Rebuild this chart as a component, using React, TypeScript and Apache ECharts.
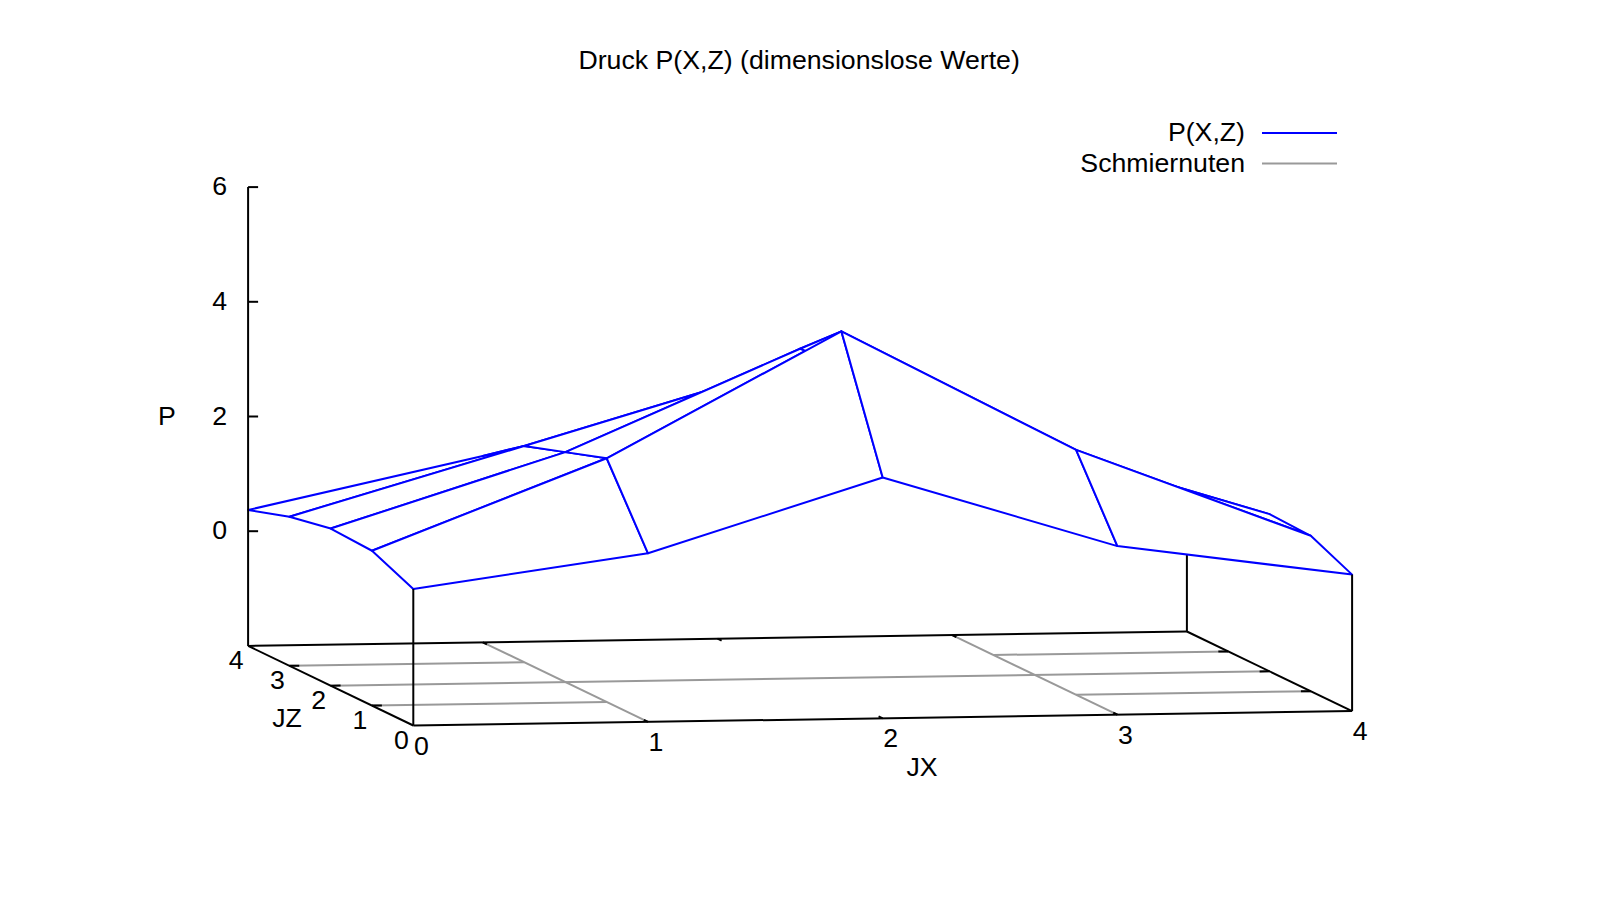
import React, { useEffect, useRef } from "react";
import * as echarts from "echarts";

const TITLE = "Druck P(X,Z) (dimensionslose Werte)";
const JX_TICKS = [0, 1, 2, 3, 4];
const JZ_TICKS = [0, 1, 2, 3, 4];
const P_TICKS = [6, 4, 2, 0];
const P_FLOOR = -2;

// P[jz][jx]
const P_Z0 = [0.38, 0.94, 2.2, 0.94, 0.38];
const P_Z1 = [0.7, 2.25, 4.4, 2.27, 0.71];
const P_Z2 = [0.74, 2.01, 3.75, 2.01, 0.74];
const P_Z3 = [0.6, 1.77, 2.95, 1.77, 0.6];
const P_Z4 = [0.37, 1.25, 2.14, 1.25, 0.37];
const P_GRID = [P_Z0, P_Z1, P_Z2, P_Z3, P_Z4];

// Schmiernuten on the floor: [jx1, jz1, jx2, jz2]
const GROOVES = [
  [1, 0, 1, 4],
  [3, 0, 3, 4],
  [0, 1, 1, 1],
  [3, 1, 4, 1],
  [0, 2, 4, 2],
  [0, 3, 1, 3],
  [3, 3, 4, 3],
];

const LEGEND_NAMES = ["P(X,Z)", "Schmiernuten"];

const BLUE = "#0000ff";
const GRAY = "#999999";
const BLACK = "#000000";
const FONT = "'Liberation Sans', Arial, sans-serif";
const LW = 2;
const FS = 26.7;

// oblique view of the (jx, jz, p) box onto the page
function project(jx: number, jz: number, p: number): [number, number] {
  return [
    413.3 + 234.7 * jx - 41.3 * jz,
    725.5 - 3.6 * jx - 19.9 * jz - 57.35 * (p - P_FLOOR),
  ];
}

type Seg = [number, number, number, number, string];
type Lbl = [number, number, string, string, number];

function segSeries(name: string, segs: Seg[], stroke: string) {
  return {
    type: "custom",
    name,
    silent: true,
    coordinateSystem: "cartesian2d",
    data: segs.map((s) => s.slice(0, 4)),
    renderItem: (_p: any, api: any) => {
      const a = api.coord([api.value(0), api.value(1)]);
      const b = api.coord([api.value(2), api.value(3)]);
      return {
        type: "line",
        shape: { x1: a[0], y1: a[1], x2: b[0], y2: b[1] },
        style: { stroke, lineWidth: LW, fill: null },
      };
    },
  };
}

function seg3(a: [number, number, number], b: [number, number, number]): Seg {
  const p = project(a[0], a[1], a[2]);
  const q = project(b[0], b[1], b[2]);
  return [p[0], p[1], q[0], q[1], ""];
}

function buildOption() {
  const F = P_FLOOR;
  const grooves: Seg[] = GROOVES.map((g) => seg3([g[0], g[1], F], [g[2], g[3], F]));

  const floor: Seg[] = [
    seg3([0, 0, F], [4, 0, F]),
    seg3([0, 4, F], [4, 4, F]),
    seg3([0, 0, F], [0, 4, F]),
    seg3([4, 0, F], [4, 4, F]),
    // vertical edge behind the surface
    seg3([4, 4, F], [4, 4, P_GRID[4][4]]),
  ];
  const TX = 0.042;
  const TZ = 0.1;
  JX_TICKS.slice(1, 4).forEach((x) => floor.push(seg3([x, 0, F], [x, TZ, F])));
  JX_TICKS.slice(1, 4).forEach((x) => floor.push(seg3([x, 4, F], [x, 4 - TZ, F])));
  JZ_TICKS.slice(1, 4).forEach((z) => {
    floor.push(seg3([0, z, F], [TX, z, F]));
    floor.push(seg3([4, z, F], [4 - TX, z, F]));
  });

  const cells: number[][] = [];
  for (let z = 3; z >= 0; z--) for (let x = 0; x < 4; x++) cells.push([x, z]);

  const front: Seg[] = [
    seg3([0, 0, F], [0, 0, P_GRID[0][0]]),
    seg3([4, 0, F], [4, 0, P_GRID[0][4]]),
    seg3([0, 4, F], [0, 4, 6]),
  ];
  [...P_TICKS].forEach((p) => {
    const a = project(0, 4, p);
    front.push([a[0], a[1], a[0] + 10, a[1], ""]);
  });

  const labels: Lbl[] = [];
  JX_TICKS.forEach((x) => {
    const a = project(x, 0, F);
    labels.push([a[0] + 8, a[1] + 20, String(x), "center", FS]);
  });
  JZ_TICKS.forEach((z) => {
    const a = project(0, z, F);
    labels.push([a[0] - 12, a[1] + 14, String(z), "center", FS]);
  });
  P_TICKS.forEach((p) => {
    const a = project(0, 4, p);
    labels.push([a[0] - 21, a[1] - 1, String(p), "right", FS]);
  });
  labels.push([922, 767, "JX", "center", FS]);
  labels.push([287, 718, "JZ", "center", FS]);
  labels.push([167, 416, "P", "center", FS]);
  LEGEND_NAMES.forEach((n, i) => labels.push([1245, 132 + i * 30.5, n, "right", FS]));

  const legendLines: Seg[][] = LEGEND_NAMES.map((_, i) => [[1262, 133 + i * 30.5, 1337, 133 + i * 30.5, ""]]);

  return {
    animation: false,
    backgroundColor: "#ffffff",
    title: {
      text: TITLE,
      left: 573.4,
      top: 41,
      textStyle: { fontFamily: FONT, fontSize: FS, fontWeight: "normal", color: BLACK },
    },
    grid: { left: 0, right: 0, top: 0, bottom: 0 },
    xAxis: { type: "value", min: 0, max: 1600, show: false },
    yAxis: { type: "value", min: 0, max: 900, inverse: true, show: false },
    series: [
      segSeries("Schmiernuten", grooves, GRAY),
      segSeries("Rahmen", floor, BLACK),
      {
        type: "custom",
        name: "P(X,Z)",
        silent: true,
        coordinateSystem: "cartesian2d",
        data: cells,
        renderItem: (_p: any, api: any) => {
          const x = api.value(0);
          const z = api.value(1);
          const corners = [
            [x, z],
            [x + 1, z],
            [x + 1, z + 1],
            [x, z + 1],
          ];
          const points = corners.map(([cx, cz]) => api.coord(project(cx, cz, P_GRID[cz][cx])));
          return {
            type: "polygon",
            shape: { points },
            style: { fill: "#ffffff", stroke: BLUE, lineWidth: LW, lineJoin: "round" },
          };
        },
      },
      segSeries("Achsen", front, BLACK),
      segSeries("Legende P", legendLines[0], BLUE),
      segSeries("Legende Schmiernuten", legendLines[1], GRAY),
      {
        type: "custom",
        name: "Beschriftung",
        silent: true,
        coordinateSystem: "cartesian2d",
        data: labels.map((l) => [l[0], l[1]]),
        renderItem: (p: any, api: any) => {
          const l = labels[p.dataIndex];
          const c = api.coord([api.value(0), api.value(1)]);
          return {
            type: "text",
            x: c[0],
            y: c[1],
            style: {
              text: l[2],
              fill: BLACK,
              fontFamily: FONT,
              fontSize: l[4],
              align: l[3],
              verticalAlign: "middle",
            },
          };
        },
      },
    ],
  };
}

export default function App() {
  const ref = useRef<HTMLDivElement>(null);
  useEffect(() => {
    const chart = echarts.init(ref.current!, undefined, { renderer: "svg" });
    chart.setOption(buildOption() as any);
    return () => chart.dispose();
  }, []);
  return <div ref={ref} style={{ position: "fixed", left: 0, top: 0, width: 1600, height: 900 }} />;
}
